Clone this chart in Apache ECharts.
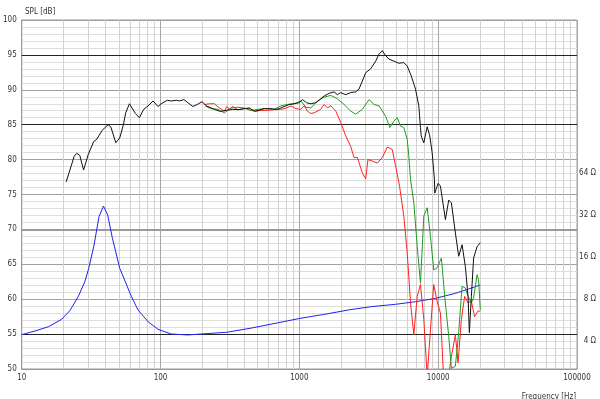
<!DOCTYPE html>
<html><head><meta charset="utf-8">
<script src="https://cdn.jsdelivr.net/npm/echarts@6/dist/echarts.min.js"></script>
<style>html,body{margin:0;padding:0;background:#fff}#c{width:600px;height:399px}</style>
</head><body><div id="c"></div>
<script>
// ---- data (frequency Hz, SPL dB / impedance ohm) ----
const freqTicks = [10, 100, 1000, 10000, 100000];
const splTicks = [50, 55, 60, 65, 70, 75, 80, 85, 90, 95, 100];
const ohmTicks = [4, 8, 16, 32, 64];

const splBlack = [
[20.9,76.8],[23.9,80.5],[24.9,80.9],[26.2,80.6],[27.9,78.5],[30.1,80.7],[33.0,82.6],[34.7,82.9],[38.0,84.2],[41.9,85.0],[43.8,84.7],[47.6,82.4],[50.8,83.1],[54.0,85.0],[56.1,86.7],[59.7,88.0],[65.9,86.6],[70.4,86.0],[75.6,87.2],[81.3,87.7],[88.3,88.4],[95.9,87.6],[101,88.0],[111.8,88.5],[119.5,88.4],[129.8,88.5],[137,88.4],[147.4,88.6],[157.5,88.15],[171,87.6],[183.6,87.9],[199.4,88.3],[213.1,87.7],[244.4,87.2],[269.9,86.9],[296.6,87.05],[331.4,87.2],[363.6,87.15],[401.5,87.3],[436.1,87.4],[473.6,86.9],[514.4,87.1],[558.7,87.3],[624.2,87.3],[678,87.2],[716,87.3],[777.7,87.6],[844.7,87.9],[917.5,88.0],[996.8,88.15],[1054,88.6],[1126,88.15],[1209,88.0],[1313,88.15],[1427,88.7],[1507,89.1],[1637,89.5],[1778,89.7],[1881,89.3],[1986,89.6],[2158,89.3],[2343,89.6],[2545,89.7],[2688,90.1],[2843,91.25],[3004,92.45],[3262,93.0],[3543,94.1],[3743,95.1],[3959,95.6],[4181,94.9],[4416,94.4],[4797,94.1],[5209,93.8],[5656,93.9],[5984,93.4],[6393,92.0],[6865,90.1],[7251,87.7],[7457,84.6],[7543,83.4],[7876,82.4],[8331,84.7],[8697,83.4],[9048,81.0],[9397,77.2],[9445,75.2],[9991,76.6],[10380,76.2],[11275,71.4],[11910,74.2],[12450,73.8],[13300,69.5],[14050,66.15],[14860,67.8],[15690,64.7],[16410,60.4],[16770,55.2],[17340,60.4],[18000,65.9],[19040,67.5],[20110,68.1]
];

const splGreen = [
[209.6,87.7],[231.4,87.3],[258.6,87.2],[288.4,86.7],[322.3,87.4],[359.9,87.5],[401.5,87.4],[448.4,87.0],[501,87.2],[558.7,87.3],[659.2,87.2],[736.1,87.7],[822.7,87.9],[917.5,88.0],[1025,88.4],[1114,87.5],[1209,87.4],[1351,88.4],[1507,88.95],[1684,89.2],[1881,88.7],[2098,87.9],[2343,86.95],[2545,86.5],[2843,87.2],[3176,88.6],[3451,87.9],[3749,87.7],[4181,86.2],[4489,84.6],[4797,85.5],[5073,86.0],[5357,84.8],[5656,84.6],[5984,82.9],[6145,80.5],[6320,77.15],[6675,73.8],[7060,67.6],[7457,62.3],[7876,71.9],[8331,73.1],[8798,69.0],[9290,64.2],[9825,64.5],[10550,65.9],[11140,60.4],[11910,54.7],[12450,50.1],[13300,50.4],[14050,55.2],[14860,61.85],[15690,61.6],[16410,60.4],[17340,59.5],[18000,60.2],[19040,63.5],[19550,62.8],[20110,58.5]
];

const splRed = [
[207.2,87.9],[225,88.0],[244.4,88.0],[265.6,87.4],[288.4,86.95],[300.1,87.6],[313.3,87.2],[331.4,87.6],[359.9,87.15],[401.5,87.3],[436.1,87.3],[487.1,86.95],[529,87.05],[591,87.05],[659.2,87.15],[727.8,87.2],[786.8,87.3],[869,87.7],[943.9,87.3],[1025,87.2],[1083,87.7],[1145,86.95],[1209,86.6],[1277,86.7],[1427,87.2],[1507,87.9],[1594,87.4],[1684,87.7],[1829,86.95],[1986,85.3],[2158,83.4],[2343,81.9],[2475,80.3],[2618,80.3],[2843,78.1],[3004,77.25],[3120,80.0],[3355,79.8],[3644,79.5],[3959,80.3],[4300,81.8],[4670,81.45],[4932,79.1],[5269,76.2],[5656,71.9],[5984,66.6],[6320,59.5],[6675,54.9],[7060,60.4],[7457,62.1],[7876,57.1],[8331,49.0],[8798,55.6],[9290,62.1],[9825,59.7],[10380,58.0],[10960,48.5],[11790,48.5],[12450,51.8],[13300,54.9],[13910,50.9],[14690,57.1],[15510,60.4],[16410,59.5],[17340,59.7],[18300,57.5],[19360,58.3],[20110,58.3]
];

const impedance = [
[10,4.44],[12.46,4.72],[15.55,5.06],[19.38,5.72],[22.2,6.6],[25.5,8.31],[28.5,10.65],[30.4,13.3],[33.2,19.5],[36.0,31.1],[38.8,37.1],[41.6,32.0],[45.0,21.8],[50.8,13.3],[55.2,10.9],[61.7,8.31],[68.9,6.67],[81.3,5.5],[95.9,4.85],[119.4,4.49],[157.4,4.42],[196,4.49],[300,4.62],[450,4.95],[700,5.4],[1000,5.8],[1500,6.2],[2300,6.7],[3300,7.05],[4932,7.33],[6866,7.65],[9550,8.09],[13300,8.79],[16560,9.44],[20110,10.08]
];

// ---- chart ----
const FONT = '"DejaVu Sans Condensed", "Liberation Sans Narrow", "Liberation Sans", sans-serif';
const minorFreqLines = [];
for (let i = 0; i < freqTicks.length - 1; i++) {
  for (let k = 2; k <= 9; k++) minorFreqLines.push({ xAxis: freqTicks[i] * k });
}
const chart = echarts.init(document.getElementById('c'), null, { renderer: 'canvas' });
const lineBase = { type: 'line', showSymbol: false, symbol: 'none', smooth: false, animation: false, clip: true, z: 5 };
const labelStyle = { fontSize: 8, color: '#333', fontFamily: FONT };
chart.setOption({
  animation: false,
  backgroundColor: '#fff',
  title: [
    { text: 'SPL [dB]', left: 20, top: 3, textStyle: Object.assign({ fontWeight: 'normal' }, labelStyle) },
    { text: 'Frequency [Hz]', right: 19, top: 388, textStyle: Object.assign({ fontWeight: 'normal' }, labelStyle) }
  ],
  grid: { left: 20, right: 23, top: 20, bottom: 30, show: true, borderColor: '#999', borderWidth: 1 },
  xAxis: {
    type: 'log', logBase: 10, min: freqTicks[0], max: freqTicks[freqTicks.length - 1],
    axisLine: { show: true, lineStyle: { color: '#999' } },
    axisTick: { show: false },
    axisLabel: Object.assign({ margin: 5, formatter: function (v) { return String(Math.round(v)); } }, labelStyle),
    splitLine: { show: true, lineStyle: { color: '#a8a8a8', width: 1 } }
  },
  yAxis: [
    {
      type: 'value', min: splTicks[0], max: splTicks[splTicks.length - 1], interval: 5,
      axisLine: { show: true, lineStyle: { color: '#999' } },
      axisTick: { show: false },
      axisLabel: Object.assign({ margin: 5 }, labelStyle),
      splitLine: { show: true, lineStyle: { color: '#a0a0a0' } },
      minorTick: { show: false, splitNumber: 5 },
      minorSplitLine: { show: true, lineStyle: { color: '#dedede' } }
    },
    {
      type: 'log', logBase: 2, min: 2.52, max: 800, position: 'right',
      axisLine: { show: false }, axisTick: { show: false }, splitLine: { show: false },
      axisLabel: Object.assign({
        align: 'right', margin: 19,
        showMinLabel: false, showMaxLabel: false,
        formatter: function (v) {
          const r = Math.round(v);
          return ohmTicks.indexOf(r) >= 0 ? r + ' Ω' : '';
        }
      }, labelStyle)
    }
  ],
  series: [
    { type: 'line', data: [], z: 1, silent: true, animation: false,
      markLine: { silent: true, symbol: 'none', label: { show: false }, animation: false,
        lineStyle: { color: '#d2d2d2', width: 1, type: 'solid' }, data: minorFreqLines } },
    { type: 'line', data: [], z: 2, silent: true, animation: false,
      markLine: { silent: true, symbol: 'none', label: { show: false }, animation: false,
        lineStyle: { color: '#222', width: 1, type: 'solid' },
        data: [{ yAxis: 95 }, { yAxis: 85 }, { yAxis: 55 },
               { yAxis: 70, lineStyle: { color: '#9a9a9a', width: 2 } }] } },
    Object.assign({}, lineBase, { name: 'Impedance', yAxisIndex: 1, data: impedance, lineStyle: { color: '#2020f0', width: 1 }, itemStyle: { color: '#2020f0' } }),
    Object.assign({}, lineBase, { name: 'Red', data: splRed, lineStyle: { color: '#ff2020', width: 1 }, itemStyle: { color: '#ff2020' } }),
    Object.assign({}, lineBase, { name: 'Green', data: splGreen, lineStyle: { color: '#1f9a1f', width: 1 }, itemStyle: { color: '#1f9a1f' } }),
    Object.assign({}, lineBase, { name: 'Black', data: splBlack, lineStyle: { color: '#111', width: 1 }, itemStyle: { color: '#111' } })
  ]
});
</script>
</body></html>
